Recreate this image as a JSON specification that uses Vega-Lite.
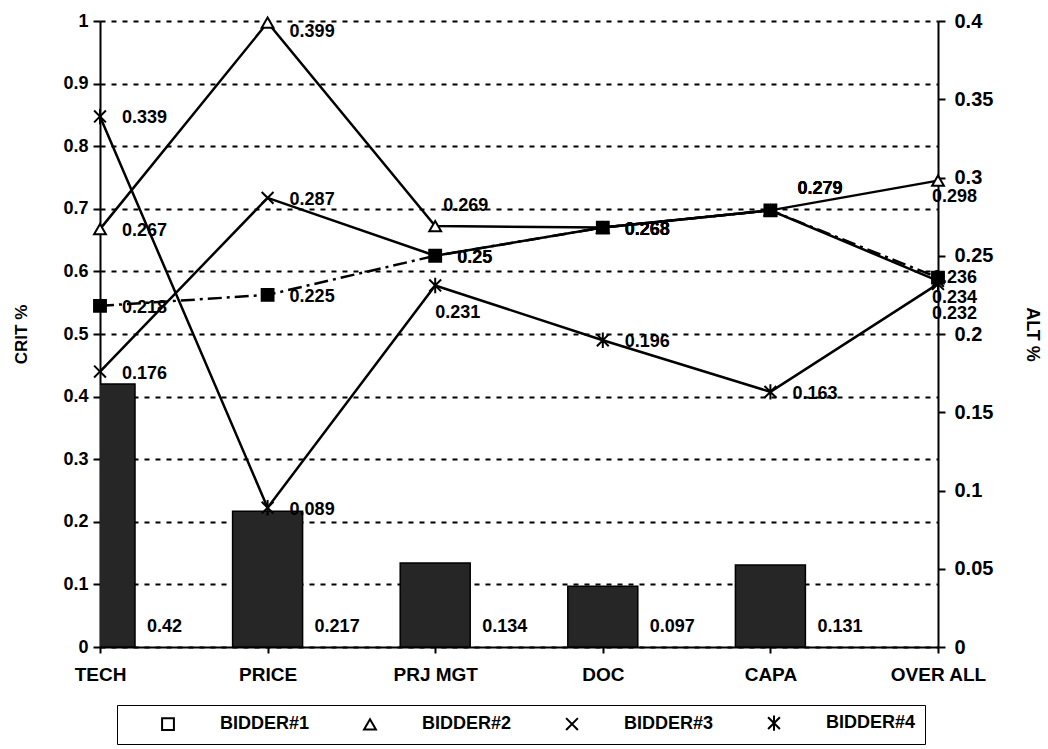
{
  "$schema": "https://vega.github.io/schema/vega-lite/v6.json",
  "width": 838,
  "height": 626,
  "autosize": {"type": "none"},
  "padding": {"left": 100, "top": 21, "right": 110, "bottom": 102},
  "background": "white",
  "config": {
    "font": "Liberation Sans",
    "view": {"stroke": null},
    "axis": {
      "labelFont": "Liberation Sans",
      "labelFontWeight": "bold",
      "labelColor": "black",
      "titleFont": "Liberation Sans",
      "titleFontWeight": "bold",
      "titleColor": "black",
      "domainColor": "black",
      "domainWidth": 2,
      "tickColor": "black",
      "tickWidth": 2
    },
    "text": {"align": "left", "baseline": "middle", "fontSize": 18, "fontWeight": "bold", "color": "black", "font": "Liberation Sans"}
  },
  "datasets": {
    "crit": [
      {"category": "TECH", "crit": 0.42},
      {"category": "PRICE", "crit": 0.217},
      {"category": "PRJ MGT", "crit": 0.134},
      {"category": "DOC", "crit": 0.097},
      {"category": "CAPA", "crit": 0.131}
    ],
    "alt": [
      {"series": "BIDDER#2", "category": "TECH", "alt": 0.267},
      {"series": "BIDDER#2", "category": "PRICE", "alt": 0.399},
      {"series": "BIDDER#2", "category": "PRJ MGT", "alt": 0.269},
      {"series": "BIDDER#2", "category": "DOC", "alt": 0.268},
      {"series": "BIDDER#2", "category": "CAPA", "alt": 0.279},
      {"series": "BIDDER#2", "category": "OVER ALL", "alt": 0.298},
      {"series": "BIDDER#3", "category": "TECH", "alt": 0.176},
      {"series": "BIDDER#3", "category": "PRICE", "alt": 0.287},
      {"series": "BIDDER#3", "category": "PRJ MGT", "alt": 0.25},
      {"series": "BIDDER#3", "category": "DOC", "alt": 0.268},
      {"series": "BIDDER#3", "category": "CAPA", "alt": 0.279},
      {"series": "BIDDER#3", "category": "OVER ALL", "alt": 0.234},
      {"series": "BIDDER#4", "category": "TECH", "alt": 0.339},
      {"series": "BIDDER#4", "category": "PRICE", "alt": 0.089},
      {"series": "BIDDER#4", "category": "PRJ MGT", "alt": 0.231},
      {"series": "BIDDER#4", "category": "DOC", "alt": 0.196},
      {"series": "BIDDER#4", "category": "CAPA", "alt": 0.163},
      {"series": "BIDDER#4", "category": "OVER ALL", "alt": 0.232},
      {"series": "BIDDER#1", "category": "TECH", "alt": 0.218},
      {"series": "BIDDER#1", "category": "PRICE", "alt": 0.225},
      {"series": "BIDDER#1", "category": "PRJ MGT", "alt": 0.25},
      {"series": "BIDDER#1", "category": "DOC", "alt": 0.268},
      {"series": "BIDDER#1", "category": "CAPA", "alt": 0.279},
      {"series": "BIDDER#1", "category": "OVER ALL", "alt": 0.236}
    ]
  },
  "encoding": {
    "x": {
      "field": "category",
      "type": "ordinal",
      "sort": null,
      "scale": {"type": "point", "padding": 0, "domain": ["TECH", "PRICE", "PRJ MGT", "DOC", "CAPA", "OVER ALL"]},
      "axis": {"title": null, "labelAngle": 0, "labelFontSize": 19, "labelPadding": 12, "tickSize": 6, "grid": false}
    }
  },
  "layer": [
    {
      "data": {"name": "crit"},
      "encoding": {
        "y": {
          "field": "crit",
          "type": "quantitative",
          "scale": {"domain": [0, 1], "nice": false},
          "axis": {
            "orient": "left",
            "title": "CRIT %",
            "titleFontSize": 17,
            "titlePadding": 32,
            "values": [0, 0.1, 0.2, 0.3, 0.4, 0.5, 0.6, 0.7, 0.8, 0.9, 1],
            "format": "~g",
            "labelFontSize": 18,
            "labelPadding": 5,
            "tickSize": 7,
            "grid": true,
            "gridColor": "black",
            "gridDash": [5, 6],
            "gridWidth": 2
          }
        }
      },
      "layer": [
        {"mark": {"type": "bar", "size": 70, "fill": "#262626", "stroke": "black", "strokeWidth": 1.5, "clip": true}},
        {
          "mark": {"type": "text", "dx": 47, "dy": -20},
          "encoding": {"y": {"datum": 0}, "text": {"field": "crit", "type": "quantitative", "format": "~g"}}
        }
      ]
    },
    {
      "data": {"name": "alt"},
      "encoding": {
        "y": {
          "field": "alt",
          "type": "quantitative",
          "scale": {"domain": [0, 0.4], "nice": false},
          "axis": {
            "orient": "right",
            "title": "ALT %",
            "titleFontSize": 18,
            "titlePadding": 30,
            "values": [0, 0.05, 0.1, 0.15, 0.2, 0.25, 0.3, 0.35, 0.4],
            "format": "~g",
            "labelFontSize": 20,
            "labelPadding": 9,
            "tickSize": 7,
            "grid": false
          }
        },
        "text": {"field": "alt", "type": "quantitative", "format": "~g"}
      },
      "layer": [
        {
          "transform": [{"filter": "datum.series !== 'BIDDER#1'"}],
          "mark": {"type": "line", "strokeWidth": 2.5, "color": "black"},
          "encoding": {"detail": {"field": "series", "type": "nominal"}, "text": null}
        },
        {
          "transform": [{"filter": "datum.series === 'BIDDER#1'"}],
          "mark": {"type": "line", "strokeWidth": 2.5, "color": "black", "strokeDash": [14, 5, 3, 5]},
          "encoding": {"text": null}
        },
        {
          "mark": {"type": "point", "filled": true, "fill": "white", "stroke": "black", "strokeWidth": 2, "opacity": 1, "size": 140},
          "encoding": {
            "text": null,
            "shape": {
              "field": "series",
              "type": "nominal",
              "scale": {
                "domain": ["BIDDER#1", "BIDDER#2", "BIDDER#3", "BIDDER#4"],
                "range": ["square", "triangle-up", "M-1,-1L1,1M-1,1L1,-1", "M-1,-1L1,1M-1,1L1,-1M0,-1.3V1.3"]
              },
              "legend": {
                "title": null,
                "orient": "none",
                "legendX": 17,
                "legendY": 684,
                "direction": "horizontal",
                "columns": 4,
                "strokeColor": "black",
                "padding": 9,
                "symbolSize": 140,
                "symbolStrokeWidth": 2,
                "symbolOffset": 33,
                "labelOffset": 43,
                "columnPadding": 18,
                "labelFont": "Liberation Sans",
                "labelFontSize": 18,
                "labelFontWeight": "bold",
                "labelColor": "black",
                "labelLimit": 200,
                "encode": {
                  "symbols": {
                    "shape": {"value": {"expr": "datum.value === 'BIDDER#1' ? 'M-7,0H-4.5M-2.8,0H4.5M5.8,0H7M-1,-1H1V1H-1Z' : datum.value === 'BIDDER#2' ? 'M-7,0H-0.6M0.6,0H7M0,-1.2L1.1,0.9H-1.1Z' : datum.value === 'BIDDER#3' ? 'M-7,0H7M-1,-1L1,1M-1,1L1,-1' : 'M-7,0H7M-1,-1L1,1M-1,1L1,-1M0,-1.3V1.3'"}},
                    "fill": {"value": {"expr": "datum.value === 'BIDDER#1' ? 'black' : 'white'"}}
                  }
                }
              }
            }
          }
        },
        {
          "transform": [{"filter": "datum.series === 'BIDDER#1'"}],
          "mark": {"type": "point", "shape": "square", "filled": true, "fill": "black", "stroke": "black", "strokeWidth": 1, "opacity": 1, "size": 130},
          "encoding": {"text": null}
        },
        {
          "transform": [{"filter": "!(datum.category === 'OVER ALL' || (datum.category === 'CAPA' && datum.series !== 'BIDDER#4') || (datum.category === 'PRJ MGT' && (datum.series === 'BIDDER#2' || datum.series === 'BIDDER#4')) || (datum.category === 'PRICE' && datum.series === 'BIDDER#2'))"}],
          "mark": {"type": "text", "dx": 22, "dy": 2}
        },
        {
          "transform": [{"filter": "datum.category === 'PRICE' && datum.series === 'BIDDER#2'"}],
          "mark": {"type": "text", "dx": 22, "dy": 9}
        },
        {
          "transform": [{"filter": "datum.category === 'PRJ MGT' && datum.series === 'BIDDER#2'"}],
          "mark": {"type": "text", "dx": 8, "dy": -20}
        },
        {
          "transform": [{"filter": "datum.category === 'PRJ MGT' && datum.series === 'BIDDER#4'"}],
          "mark": {"type": "text", "dx": 0, "dy": 28}
        },
        {
          "transform": [{"filter": "datum.category === 'CAPA' && datum.series !== 'BIDDER#4'"}],
          "mark": {"type": "text", "dx": 27, "dy": -21}
        },
        {
          "transform": [{"filter": "datum.category === 'OVER ALL' && datum.series === 'BIDDER#2'"}],
          "mark": {"type": "text", "dx": -6, "dy": 16}
        },
        {
          "transform": [{"filter": "datum.category === 'OVER ALL' && datum.series === 'BIDDER#1'"}],
          "mark": {"type": "text", "dx": -6, "dy": 0}
        },
        {
          "transform": [{"filter": "datum.category === 'OVER ALL' && datum.series === 'BIDDER#3'"}],
          "mark": {"type": "text", "dx": -6, "dy": 17}
        },
        {
          "transform": [{"filter": "datum.category === 'OVER ALL' && datum.series === 'BIDDER#4'"}],
          "mark": {"type": "text", "dx": -6, "dy": 30}
        }
      ]
    }
  ],
  "resolve": {"scale": {"y": "independent"}}
}
